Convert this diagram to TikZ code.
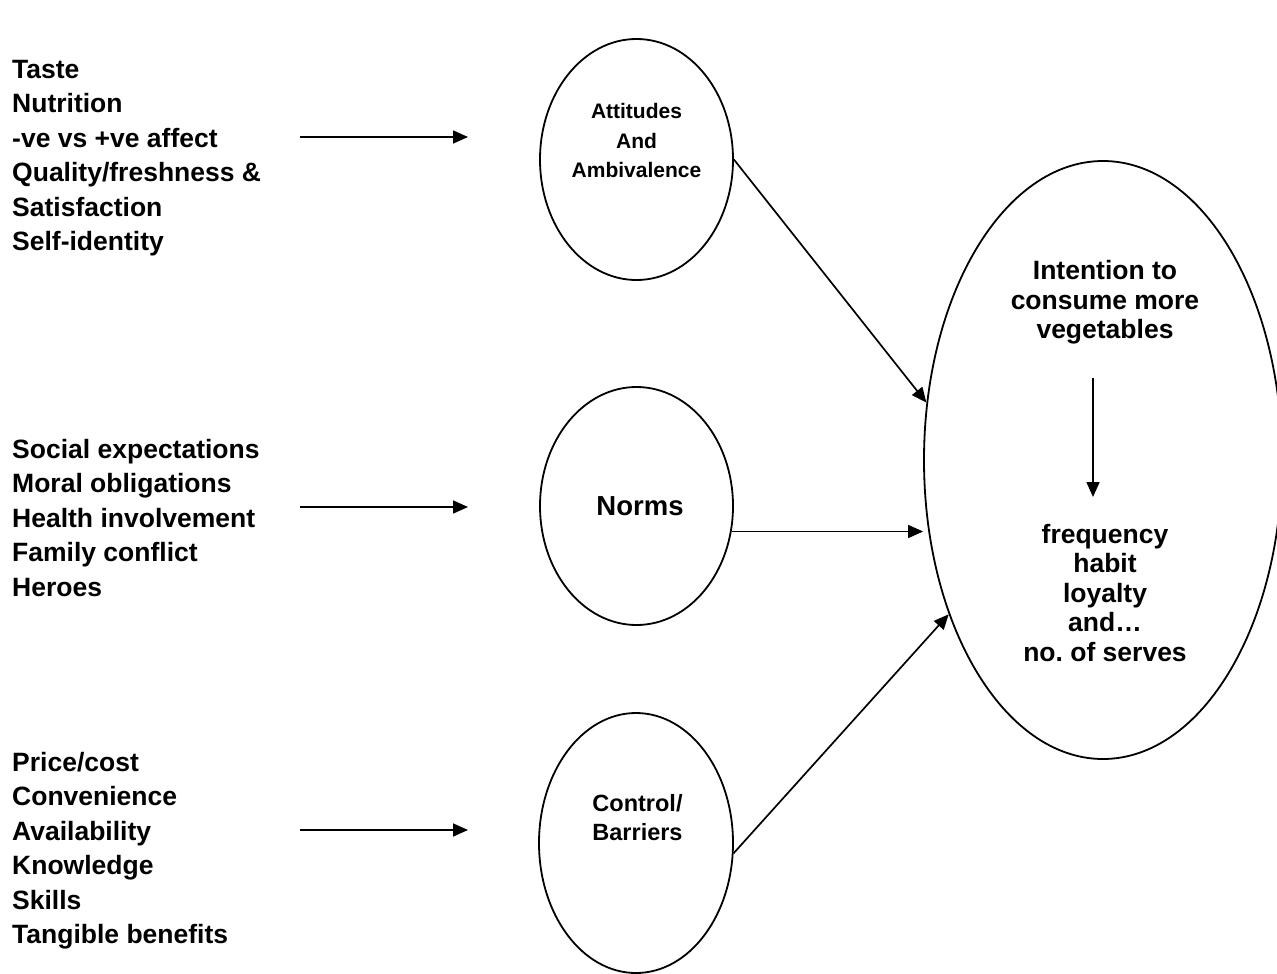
\documentclass[tikz,border=0pt]{standalone}
\usepackage{fontspec}
\setmainfont{Liberation Sans}
\usetikzlibrary{arrows.meta,shapes.geometric}
\begin{document}
\begin{tikzpicture}[x=1pt,y=-1pt,
  oval/.style={draw, ellipse, line width=1.8pt, inner sep=0pt},
  conn/.style={line width=1.7pt, -{Triangle[length=15pt,width=13pt]}},
  lefttext/.style={anchor=base west, align=left, inner sep=0pt, font=\fontsize{26.5}{34.4}\selectfont\bfseries},
  bigtext/.style={anchor=base, align=center, inner sep=0pt, font=\fontsize{26.5}{29.6}\selectfont\bfseries},
  smalltext/.style={anchor=base, align=center, inner sep=0pt, font=\fontsize{21}{29.5}\selectfont\bfseries},
  midtext/.style={anchor=base, align=center, inner sep=0pt, font=\fontsize{23.5}{29}\selectfont\bfseries}
]
\useasboundingbox (0,0) rectangle (1277,974);
\fill[white] (0,0) rectangle (1277,974);

% ellipses
\node[oval, minimum width=193pt, minimum height=241pt] (att) at (636.5,159.5) {};
\node[oval, minimum width=193pt, minimum height=238pt] (norms) at (636.5,506) {};
\node[oval, minimum width=194pt, minimum height=260pt] (ctrl) at (636,843) {};
\node[oval, minimum width=358pt, minimum height=598pt] (big) at (1103,460) {};

% left texts (anchor = baseline of last line)
\node[lefttext] (t1) at (12,250.5) {Taste\\Nutrition\\-ve vs +ve affect\\Quality/freshness \&\\Satisfaction\\Self-identity};
\node[lefttext] (t2) at (12,596.1) {Social expectations\\Moral obligations\\Health involvement\\Family conflict\\Heroes};
\node[lefttext] (t3) at (12,943.5) {Price/cost\\Convenience\\Availability\\Knowledge\\Skills\\Tangible benefits};

% ellipse labels
\node[smalltext] (attl) at (636.5,177.5) {Attitudes\\And\\Ambivalence};
\node[font=\fontsize{27.5}{30}\selectfont\bfseries, anchor=base, inner sep=0pt] (normsl) at (640,515.5) {Norms};
\node[midtext] (ctrll) at (637.5,840.5) {Control/\\Barriers};
\node[bigtext] (intl) at (1105,338.7) {Intention to\\consume more\\vegetables};
\node[bigtext] (freql) at (1105,661.4) {frequency\\habit\\loyalty\\and\ldots\\no.\ of serves};

% left arrows
\coordinate (a1s) at (300,137);
\coordinate (a1e) at (468,137);
\coordinate (a2s) at (300,507);
\coordinate (a2e) at (468,507);
\coordinate (a3s) at (300,830);
\coordinate (a3e) at (468,830);
\draw[conn] (a1s) -- (a1e);
\draw[conn] (a2s) -- (a2e);
\draw[conn] (a3s) -- (a3e);

% ellipse to big ellipse
\draw[conn] (att.east) -- (big.162);
\draw[conn] (norms.-15) -- (norms.-15 -| big.west);
\draw[conn] (ctrl.-6) -- (big.225);

% inner arrow
\coordinate (ins) at (1093,378);
\coordinate (ine) at (1093,497);
\draw[conn] (ins) -- (ine);
\end{tikzpicture}
\end{document}
